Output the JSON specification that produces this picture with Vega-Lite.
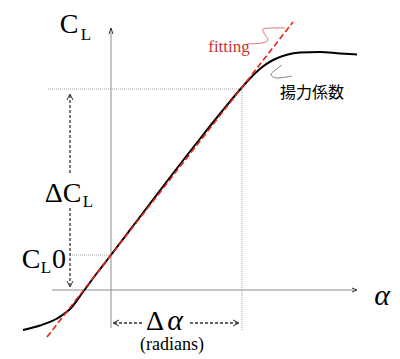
{
  "$schema": "https://vega.github.io/schema/vega-lite/v6.json",
  "width": 400,
  "height": 359,
  "padding": 0,
  "autosize": {"type": "fit", "contains": "padding"},
  "background": "white",
  "config": {"view": {"stroke": null}},
  "datasets": {
    "axes": [
      {"x": 0, "y": -38, "x2": 0, "y2": 262},
      {"x": -59, "y": 0, "x2": 246, "y2": 0}
    ],
    "guides": [
      {"x": -63, "y": 201, "x2": 131, "y2": 201},
      {"x": 131, "y": 201, "x2": 131, "y2": -40},
      {"x": -39, "y": 35, "x2": 0, "y2": 35}
    ],
    "dashArrows": [
      {"x": -41, "y": 195, "x2": -41, "y2": 116},
      {"x": -41, "y": 82, "x2": -41, "y2": 4},
      {"x": 3, "y": -33, "x2": 32, "y2": -33},
      {"x": 79, "y": -33, "x2": 127, "y2": -33}
    ],
    "heads": [
      {"x": -2, "y": 256, "x2": 0, "y2": 262},
      {"x": 2, "y": 256, "x2": 0, "y2": 262},
      {"x": 241, "y": 2, "x2": 246, "y2": 0},
      {"x": 241, "y": -2, "x2": 246, "y2": 0},
      {"x": -44, "y": 190, "x2": -41, "y2": 196},
      {"x": -38, "y": 190, "x2": -41, "y2": 196},
      {"x": -44, "y": 9, "x2": -41, "y2": 3},
      {"x": -38, "y": 9, "x2": -41, "y2": 3},
      {"x": 8, "y": -30, "x2": 2, "y2": -33},
      {"x": 8, "y": -36, "x2": 2, "y2": -33},
      {"x": 122, "y": -30, "x2": 128, "y2": -33},
      {"x": 122, "y": -36, "x2": 128, "y2": -33}
    ],
    "fit": [
      {"x": -64, "y": -47, "x2": 182, "y2": 268}
    ],
    "curve": [
      {"x": -88, "y": -40},
      {"x": -71, "y": -35.5},
      {"x": -54, "y": -28.5},
      {"x": -40, "y": -18},
      {"x": -28, "y": -2},
      {"x": -14, "y": 17},
      {"x": 0, "y": 35},
      {"x": 30, "y": 74.5},
      {"x": 60, "y": 114},
      {"x": 90, "y": 152.5},
      {"x": 110, "y": 177.5},
      {"x": 130, "y": 201.5},
      {"x": 139, "y": 211.5},
      {"x": 150, "y": 222},
      {"x": 162, "y": 230},
      {"x": 175, "y": 235},
      {"x": 189, "y": 237.5},
      {"x": 209, "y": 238},
      {"x": 229, "y": 236.5},
      {"x": 246, "y": 235.5}
    ],
    "redSquiggle": [
      {"i": 1, "x": 138, "y": 246},
      {"i": 2, "x": 151, "y": 247},
      {"i": 3, "x": 157, "y": 250},
      {"i": 4, "x": 153, "y": 257},
      {"i": 5, "x": 152, "y": 261},
      {"i": 6, "x": 161, "y": 262},
      {"i": 7, "x": 174, "y": 262}
    ],
    "graySquiggle": [
      {"i": 1, "x": 171, "y": 225},
      {"i": 2, "x": 163, "y": 219},
      {"i": 3, "x": 160, "y": 215},
      {"i": 4, "x": 166, "y": 212},
      {"i": 5, "x": 181, "y": 214}
    ],
    "bigText": [
      {"x": -42, "y": 257, "t": "C"},
      {"x": -48, "y": 88, "t": "ΔC"},
      {"x": -80, "y": 22, "t": "C"},
      {"x": -52, "y": 22, "t": "0"},
      {"x": 44, "y": -40, "t": "Δ"}
    ],
    "italicText": [
      {"x": 64, "y": -40, "t": "α"},
      {"x": 271, "y": -15, "t": "α"}
    ],
    "subText": [
      {"x": -25, "y": 250, "t": "L"},
      {"x": -23, "y": 83, "t": "L"},
      {"x": -65, "y": 17, "t": "L"}
    ],
    "noteText": [
      {"x": 61, "y": -60, "t": "(radians)"}
    ],
    "redText": [
      {"x": 118, "y": 238, "t": "fitting"}
    ],
    "jpText": [
      {"x": 201, "y": 192, "t": "揚力係数"}
    ]
  },
  "encoding": {
    "x": {"field": "x", "type": "quantitative", "scale": {"domain": [-111, 289], "nice": false, "zero": false}, "axis": null},
    "y": {"field": "y", "type": "quantitative", "scale": {"domain": [-69, 290], "nice": false, "zero": false}, "axis": null}
  },
  "layer": [
    {
      "data": {"name": "axes"},
      "mark": {"type": "rule", "color": "#8c8c8c", "strokeWidth": 1},
      "encoding": {"x2": {"field": "x2"}, "y2": {"field": "y2"}}
    },
    {
      "data": {"name": "guides"},
      "mark": {"type": "rule", "color": "#8c8c8c", "strokeWidth": 0.8, "strokeDash": [1, 1]},
      "encoding": {"x2": {"field": "x2"}, "y2": {"field": "y2"}}
    },
    {
      "data": {"name": "dashArrows"},
      "mark": {"type": "rule", "color": "#333333", "strokeWidth": 1.3, "strokeDash": [3, 2]},
      "encoding": {"x2": {"field": "x2"}, "y2": {"field": "y2"}}
    },
    {
      "data": {"name": "heads"},
      "mark": {"type": "rule", "color": "#333333", "strokeWidth": 1},
      "encoding": {"x2": {"field": "x2"}, "y2": {"field": "y2"}}
    },
    {
      "data": {"name": "curve"},
      "mark": {"type": "line", "color": "black", "strokeWidth": 2, "interpolate": "monotone"},
      "encoding": {}
    },
    {
      "data": {"name": "fit"},
      "mark": {"type": "rule", "color": "#e2231a", "strokeWidth": 1.6, "strokeDash": [6, 3]},
      "encoding": {"x2": {"field": "x2"}, "y2": {"field": "y2"}}
    },
    {
      "data": {"name": "redSquiggle"},
      "mark": {"type": "line", "color": "#d9534f", "strokeWidth": 0.8, "interpolate": "cardinal"},
      "encoding": {"order": {"field": "i"}}
    },
    {
      "data": {"name": "graySquiggle"},
      "mark": {"type": "line", "color": "#666666", "strokeWidth": 0.8, "interpolate": "cardinal"},
      "encoding": {"order": {"field": "i"}}
    },
    {
      "data": {"name": "bigText"},
      "mark": {"type": "text", "font": "Liberation Serif", "fontSize": 28, "align": "center", "baseline": "alphabetic", "color": "black"},
      "encoding": {"text": {"field": "t"}}
    },
    {
      "data": {"name": "italicText"},
      "mark": {"type": "text", "font": "Liberation Serif", "fontStyle": "italic", "fontSize": 30, "align": "center", "baseline": "alphabetic", "color": "black"},
      "encoding": {"text": {"field": "t"}}
    },
    {
      "data": {"name": "subText"},
      "mark": {"type": "text", "font": "Liberation Serif", "fontSize": 17, "align": "center", "baseline": "alphabetic", "color": "black"},
      "encoding": {"text": {"field": "t"}}
    },
    {
      "data": {"name": "noteText"},
      "mark": {"type": "text", "font": "Liberation Serif", "fontSize": 18, "align": "center", "baseline": "alphabetic", "color": "black"},
      "encoding": {"text": {"field": "t"}}
    },
    {
      "data": {"name": "redText"},
      "mark": {"type": "text", "font": "Liberation Serif", "fontSize": 17, "align": "center", "baseline": "alphabetic", "color": "#cc3333"},
      "encoding": {"text": {"field": "t"}}
    },
    {
      "data": {"name": "jpText"},
      "mark": {"type": "text", "font": "Noto Sans CJK JP", "fontSize": 16, "align": "center", "baseline": "alphabetic", "color": "black"},
      "encoding": {"text": {"field": "t"}}
    }
  ]
}
